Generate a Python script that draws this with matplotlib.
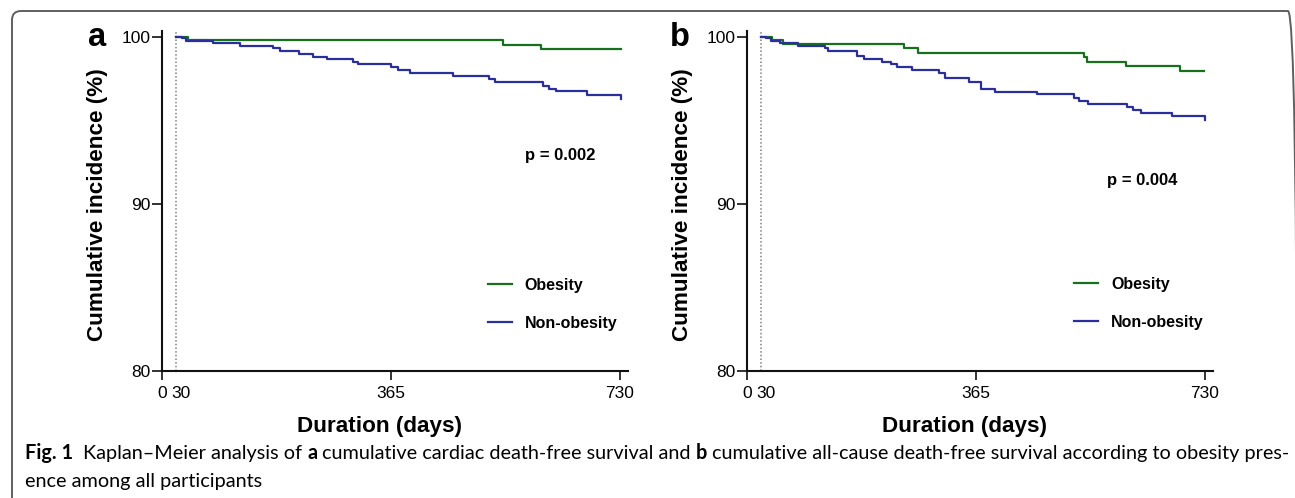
import matplotlib
matplotlib.use('Agg')
import matplotlib.pyplot as plt
from matplotlib.patches import FancyBboxPatch
from matplotlib.transforms import IdentityTransform
from matplotlib import font_manager as fm

# ---------------- data ----------------
x_ticks = [0, 365, 730]
x_tick_labels = ['0', '365', '730']
x_extra_tick = 30
y_ticks = [80, 90, 100]
landmark_day = 22

# panel a: cardiac death-free survival
a_obes_t = [22, 42, 543, 605, 731]
a_obes_s = [100, 99.8, 99.5, 99.25, 99.25]
a_non_t = [22, 33, 38, 82, 125, 178, 188, 218, 241, 264, 305, 313, 366, 376, 396,
           464, 521, 531, 607, 617, 628, 678, 731]
a_non_s = [100, 99.9, 99.74, 99.6, 99.44, 99.3, 99.14, 98.96, 98.8, 98.66, 98.5,
           98.35, 98.17, 98.0, 97.81, 97.65, 97.45, 97.27, 97.07, 96.9, 96.73,
           96.53, 96.27]
a_pvalue = 'p = 0.002'

# panel b: all-cause death-free survival
b_obes_t = [22, 41, 58, 250, 273, 537, 542, 604, 691, 729]
b_obes_s = [100, 99.8, 99.56, 99.3, 99.02, 98.77, 98.5, 98.25, 97.96, 97.96]
b_non_t = [22, 31, 38, 53, 82, 124, 130, 176, 187, 216, 230, 240, 263, 306, 316,
           354, 373, 396, 463, 521, 530, 544, 606, 616, 628, 677, 730]
b_non_s = [100, 99.9, 99.76, 99.6, 99.46, 99.3, 99.14, 98.85, 98.66, 98.5, 98.35,
           98.17, 98.0, 97.8, 97.55, 97.3, 96.9, 96.7, 96.55, 96.35, 96.17, 96.0,
           95.8, 95.6, 95.45, 95.27, 95.03]
b_pvalue = 'p = 0.004'

series_labels = ['Obesity', 'Non-obesity']
series_colors = ['#17701c', '#2b2f9c']
panel_letters = ['a', 'b']
xlabel = 'Duration (days)'
ylabel = 'Cumulative incidence (%)'

caption_line1 = [('Fig. 1', 'bold'), ('Kaplan–Meier analysis of', 'normal'), ('a', 'bold'),
                 ('cumulative cardiac death-free survival and', 'normal'), ('b', 'bold'),
                 ('cumulative all-cause death-free survival according to obesity pres-', 'normal')]
caption_line2 = [('ence among all participants', 'normal')]

# ---------------- layout ----------------
W, H, DPI = 1295, 498, 100
fig = plt.figure(figsize=(W / DPI, H / DPI), dpi=DPI)

def have(name):
    try:
        fm.findfont(fm.FontProperties(family=name), fallback_to_default=False)
        return True
    except Exception:
        return False

PF = ['Liberation Sans', 'DejaVu Sans']
CF = [f for f in ['Lato', 'Open Sans', 'DejaVu Sans'] if have(f)][:1] + ['DejaVu Sans']

XMAX, YMIN, YMAX = 742, 80, 100.35
ax_w, ax_h = 465.8, 340.15
lefts = [161.7, 746.7]
bottom = H - 371.0
p_pos = [(635, 92.87), (630, 91.37)]
leg_pos = [(520, 84.0), (522, 84.04)]

TICK_FS = 12.5
XT_LEN, XT_PAD = 6.5, 4.5

datasets = [((a_obes_t, a_obes_s), (a_non_t, a_non_s), a_pvalue),
            ((b_obes_t, b_obes_s), (b_non_t, b_non_s), b_pvalue)]

for i, (obes, non, pv) in enumerate(datasets):
    ax = fig.add_axes([lefts[i] / W, bottom / H, ax_w / W, ax_h / H])
    ax.set_xlim(0, XMAX)
    ax.set_ylim(YMIN, YMAX)
    for s in ['top', 'right']:
        ax.spines[s].set_visible(False)
    for s in ['left', 'bottom']:
        ax.spines[s].set_linewidth(1.5)
        ax.spines[s].set_color('#111111')
    ax.set_xticks(x_ticks)
    ax.set_xticklabels(x_tick_labels, family=PF, fontsize=TICK_FS)
    ax.set_xticks([x_extra_tick], minor=True)
    ax.set_xticklabels([str(x_extra_tick)], minor=True, family=PF, fontsize=TICK_FS)
    ax.tick_params(axis='x', which='major', length=XT_LEN, width=1.2, pad=XT_PAD,
                   color='#111111')
    ax.tick_params(axis='x', which='minor', length=0, pad=XT_LEN + XT_PAD)
    ax.set_yticks(y_ticks)
    ax.set_yticklabels([str(v) for v in y_ticks], family=PF, fontsize=TICK_FS)
    ax.tick_params(axis='y', which='major', length=7, width=1.2, pad=1.2, color='#111111')

    ax.axvline(landmark_day, color='#808080', lw=1.1, ls=(0, (1, 1.4)), zorder=1)

    for (t, s_), lab, col in zip([obes, non], series_labels, series_colors):
        ax.plot(t, s_, drawstyle='steps-post', color=col, lw=1.6, label=lab, zorder=3)

    ax.text(p_pos[i][0], p_pos[i][1], pv, ha='center', va='center',
            family=PF, fontweight='bold', fontsize=12)
    ax.legend(loc='center left', bbox_to_anchor=leg_pos[i], bbox_transform=ax.transData,
              frameon=False, handlelength=1.5, handletextpad=0.8, labelspacing=1.45,
              borderpad=0, borderaxespad=0,
              prop=fm.FontProperties(family=PF, weight='bold', size=11.5))

    # x label
    x_center = lefts[i] + 218.0
    fig.text(x_center / W, (H - 432) / H, xlabel, ha='center', va='baseline',
             family=PF, fontweight='bold', fontsize=16.2)
    # y label
    ylx = [97.5, 682.5][i]
    fig.text(ylx / W, (H - 205) / H, ylabel, ha='center', va='center', rotation=90,
             family=PF, fontweight='bold', fontsize=16.2)
    # panel letter
    plx = [97.5, 680.0][i]
    fig.text(plx / W, (H - 46) / H, panel_letters[i], ha='center', va='baseline',
             family=PF, fontweight='bold', fontsize=23.5)

# frame around figure (pixel coordinates)
frame = FancyBboxPatch((12, -40), 1297 - 12, H - 11 + 40,
                       boxstyle='round,pad=0,rounding_size=9',
                       transform=IdentityTransform(), fill=False, lw=1.4,
                       edgecolor='#5f5f5f', clip_on=False)
fig.patches.append(frame)

# ---------------- caption ----------------
renderer = fig.canvas.get_renderer()

def width_of(txt, weight, size):
    t = fig.text(0, 0, txt, family=CF, fontweight=weight, fontsize=size)
    w = t.get_window_extent(renderer).width
    t.remove()
    return w

base = 12.0
space = width_of('x x', 'normal', base) - width_of('xx', 'normal', base)
gaps = [2 * space] + [space] * (len(caption_line1) - 2)
total = sum(width_of(p, w, base) for p, w in caption_line1) + sum(gaps)
size = base * (1260.0 / total)
space = space * size / base

def draw_line(pieces, y_px, gap_list):
    x = 25.0
    for k, (p, w) in enumerate(pieces):
        t = fig.text(x / W, (H - y_px) / H, p, family=CF, fontweight=w, fontsize=size,
                     va='baseline', ha='left')
        x += t.get_window_extent(renderer).width
        if k < len(gap_list):
            x += gap_list[k]

draw_line(caption_line1, 459, [2 * space] + [space] * (len(caption_line1) - 2))
draw_line(caption_line2, 487, [])

fig.savefig('out.png', dpi=DPI)
